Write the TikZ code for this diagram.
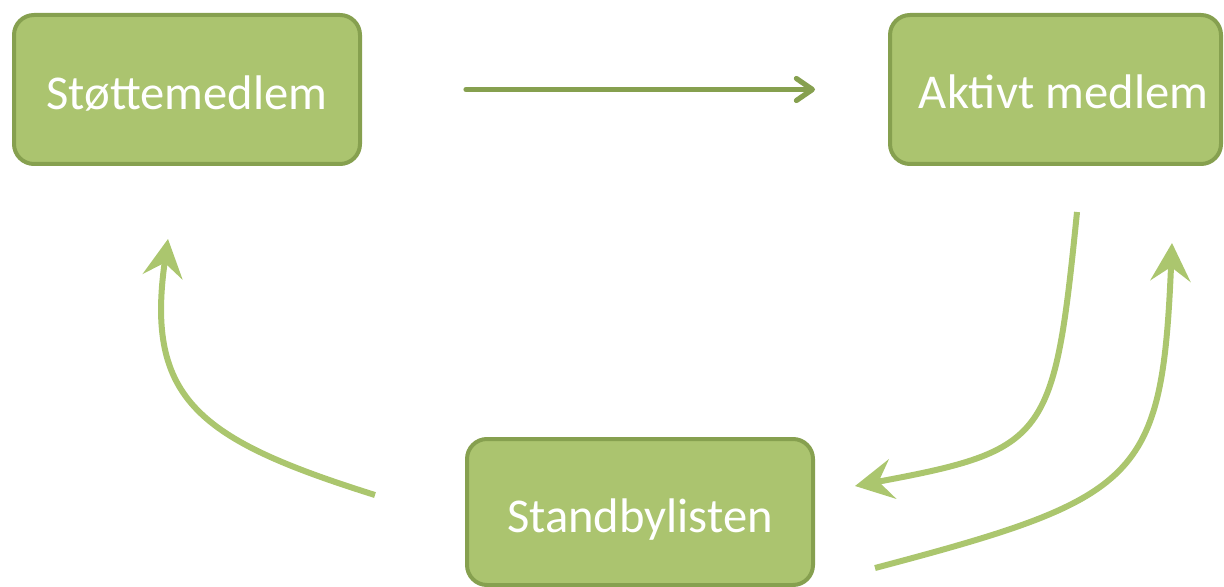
\documentclass[tikz,border=0pt]{standalone}
\usepackage{fontspec}
\setmainfont{Carlito}
\usetikzlibrary{arrows.meta}
\usetikzlibrary{positioning}

\definecolor{boxfill}{HTML}{ABC46F}
\definecolor{boxline}{HTML}{86A04F}
\definecolor{curveline}{HTML}{ABC66E}

\tikzset{
  member/.style={rectangle,rounded corners=10pt,fill=boxfill,draw=boxline,line width=2pt,
    minimum width=173pt,minimum height=74.5pt,inner sep=2pt,text=white,
    text height=20pt,text depth=0pt,font=\fontsize{24.3}{28}\selectfont},
  flow/.style={draw=boxline,line width=2.6pt,line cap=round,
    -{Straight Barb[length=8pt,width=11pt,line cap=round,line join=round]}},
  curvearrow/.style={draw=curveline,line width=3pt,-{Stealth[length=19pt,width=20pt,inset=7pt]}}
}

\begin{document}
\begin{tikzpicture}[x=0.5pt,y=-0.5pt]
\useasboundingbox (0,0) rectangle (1224,587);
\node[member] (stotte) at (187,89.5) {Støttemedlem};
\node[member,minimum width=165.5pt,text height=19pt] (aktiv) at (1055.5,89.5) {\hspace*{8pt}Aktivt medlem};
\node[member,minimum height=73pt] (standby) at (640,512) {Standbylisten};

\draw[flow,shorten <=52pt,shorten >=36.5pt] (stotte) -- (aktiv);

\coordinate (lstart) at (375,495);
\coordinate (lend) at (168,239);
\coordinate (astart) at (1077,212);
\coordinate (aend) at (855,486);
\coordinate (kstart) at (875,568);
\coordinate (kend) at (1172,243);

\draw[curvearrow] (lstart) .. controls (200,440) and (145,400) .. (lend);
\draw[curvearrow] (astart) .. controls (1054,440) and (1048,450) .. (aend);
\draw[curvearrow] (kstart) .. controls (1140,498) and (1162,480) .. (kend);

\end{tikzpicture}
\end{document}
